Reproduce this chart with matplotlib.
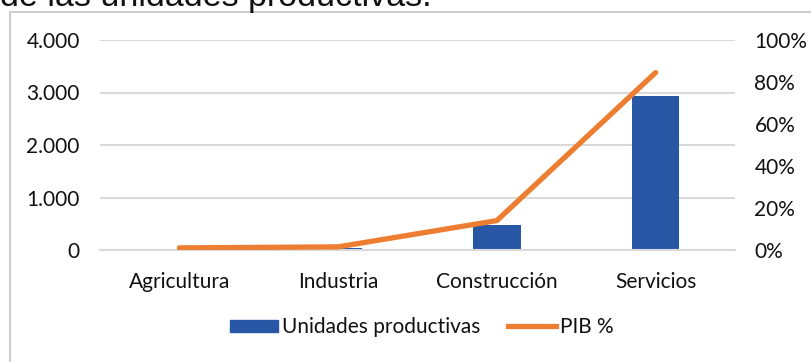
import matplotlib
matplotlib.use("Agg")
import matplotlib.pyplot as plt
from matplotlib.patches import Patch, Rectangle
from matplotlib.lines import Line2D
from matplotlib.ticker import FuncFormatter, PercentFormatter

sectores = ["Agricultura", "Industria", "Construcción", "Servicios"]
unidades_productivas = [5, 40, 480, 2930]
pib_pct = [0.01, 0.015, 0.14, 0.845]

BAR_COLOR = "#2857A5"
LINE_COLOR = "#ED7D31"
GRID_COLOR = "#D9D9D9"
TEXT_COLOR = "#111111"
FONT = "Lato"
SIZE = 15

W, H = 811, 362
fig = plt.figure(figsize=(W / 100, H / 100), dpi=100)
fig.patch.set_facecolor("white")

# outer chart frame
fig.patches.append(Rectangle((10 / W, -0.02), (W + 10) / W, (H - 12) / H + 0.02,
                             transform=fig.transFigure, fill=False,
                             edgecolor="#C8C8C8", linewidth=1.3))

# heading line above the chart (cut at the top edge)
fig.text(0 / W, 1 - 6 / H, "de las unidades productivas.", fontsize=24.5,
         family="Liberation Sans", color=TEXT_COLOR, ha="left", va="baseline")

ax = fig.add_axes([100 / W, 112 / H, 635 / W, 210 / H])
x = range(len(sectores))
ax.bar(x, unidades_productivas, width=0.30, color=BAR_COLOR, zorder=2)
ax.set_xlim(-0.5, len(sectores) - 0.5)
ax.set_ylim(0, 4000)
ax.set_yticks([0, 1000, 2000, 3000, 4000])
ax.yaxis.set_major_formatter(FuncFormatter(lambda v, p: f"{int(v):,}".replace(",", ".")))
ax.set_xticks(list(x))
ax.set_xticklabels(sectores)
ax.grid(axis="y", color=GRID_COLOR, linewidth=1.5, zorder=0)
for s in ax.spines.values():
    s.set_visible(False)
ax.spines["bottom"].set_visible(True)
ax.spines["bottom"].set_color(GRID_COLOR)
ax.spines["bottom"].set_linewidth(1.5)
ax.tick_params(axis="both", length=0, labelsize=SIZE, labelcolor=TEXT_COLOR)
ax.tick_params(axis="y", pad=14.5)
ax.tick_params(axis="x", pad=16)
for lab in ax.get_xticklabels() + ax.get_yticklabels():
    lab.set_family(FONT)

ax2 = ax.twinx()
ax2.plot(list(x), pib_pct, color=LINE_COLOR, linewidth=3.8,
         solid_capstyle="round", solid_joinstyle="round", zorder=3)
ax2.set_ylim(0, 1)
ax2.set_yticks([0, 0.2, 0.4, 0.6, 0.8, 1.0])
ax2.yaxis.set_major_formatter(PercentFormatter(1.0, decimals=0))
for s in ax2.spines.values():
    s.set_visible(False)
ax2.tick_params(axis="y", length=0, labelsize=SIZE, labelcolor=TEXT_COLOR, pad=14)
for lab in ax2.get_yticklabels():
    lab.set_family(FONT)

handles = [Patch(facecolor=BAR_COLOR, edgecolor=BAR_COLOR),
           Line2D([0], [0], color=LINE_COLOR, linewidth=3.8)]
fig.legend(handles, ["Unidades productivas", "PIB %"], loc="center",
           bbox_to_anchor=(422 / W, 1 - 327 / H), ncol=2, frameon=False,
           prop={"family": FONT, "size": SIZE}, handlelength=2.3,
           handleheight=0.5, handletextpad=0.2, columnspacing=1.3,
           labelcolor=TEXT_COLOR)

fig.savefig("out.png", dpi=100, facecolor="white")
